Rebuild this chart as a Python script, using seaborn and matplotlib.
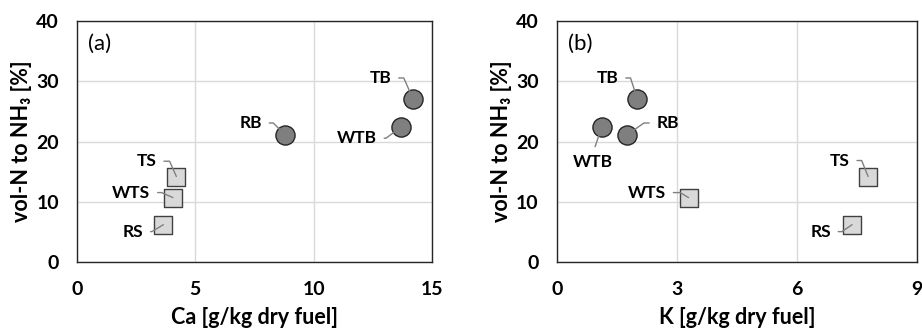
import matplotlib
matplotlib.use("Agg")
import matplotlib.pyplot as plt
import seaborn as sns
import pandas as pd

# ---- data ----
fuels = ["RS", "WTS", "TS", "RB", "WTB", "TB"]
fuel_type = ["straw", "straw", "straw", "bark", "bark", "bark"]
ca = [3.65, 4.05, 4.2, 8.8, 13.7, 14.2]
k = [7.38, 3.29, 7.78, 1.75, 1.12, 2.01]
nh3 = [6.2, 10.7, 14.2, 21.1, 22.4, 27.1]

xticks_a = [0, 5, 10, 15]
xticks_b = [0, 3, 6, 9]
yticks = [0, 10, 20, 30, 40]

df = pd.DataFrame({"fuel": fuels, "type": fuel_type, "Ca": ca, "K": k, "NH3": nh3})

sns.set_theme(style="white")
plt.rcParams["font.family"] = ["Lato", "DejaVu Sans"]

fig = plt.figure(figsize=(9.22, 3.3), dpi=100)
ax1 = fig.add_axes([0.0835, 0.206, 0.385, 0.730])
ax2 = fig.add_axes([0.604, 0.206, 0.3905, 0.730])

# label layout: offset (points), connection angle at point, relpos
lab_a = {
    "TS": ((-21.5, 11), 114, (1, 0.5)),
    "WTS": ((-30, 3.6), 156, (1, 0.5)),
    "RS": ((-22, -5), 211, (1, 0.5)),
    "RB": ((-25, 8.6), 135, (1, 0.5)),
    "TB": ((-23.5, 15), 114, (1, 0.5)),
    "WTB": ((-32, -8), 216, (1, 0.5)),
}
lab_b = {
    "TB": ((-21.5, 15), 108, (1, 0.5)),
    "RB": ((29.5, 8.6), 35, (0, 0.5)),
    "WTB": ((-6.5, -25), None, (0.5, 1)),
    "WTS": ((-30, 3.6), 149, (1, 0.5)),
    "TS": ((-20.5, 11.5), 112, (1, 0.5)),
    "RS": ((-22.8, -5), 214, (1, 0.5)),
}

def draw(ax, xcol, xticks, labels, letter, xlabel):
    straw = df[df["type"] == "straw"]
    bark = df[df["type"] == "bark"]
    sns.scatterplot(data=straw, x=xcol, y="NH3", ax=ax, marker="s", s=175,
                    color="#d9d9d9", edgecolor="#404040", linewidth=1.0, zorder=2)
    sns.scatterplot(data=bark, x=xcol, y="NH3", ax=ax, marker="o", s=190,
                    color="#7f7f7f", edgecolor="#262626", linewidth=1.0, zorder=2)
    ax.set_xlim(xticks[0], xticks[-1])
    ax.set_ylim(0, 40)
    ax.set_xticks(xticks)
    ax.set_yticks(yticks)
    ax.grid(True, color="#d9d9d9", linewidth=1.0)
    ax.set_axisbelow(True)
    for sp in ax.spines.values():
        sp.set_color("#262626")
        sp.set_linewidth(1.0)
    ax.tick_params(axis="y", length=0, pad=13, labelsize=14)
    ax.tick_params(axis="x", length=0, pad=14, labelsize=14)
    for t in ax.get_xticklabels() + ax.get_yticklabels():
        t.set_fontweight("bold")
        t.set_color("#000000")
    ax.set_xlabel(xlabel, fontsize=15.5, fontweight="bold", color="#000000")
    ax.set_ylabel("vol-N to NH₃ [%]", fontsize=15.5, fontweight="bold", color="#000000")
    ax.xaxis.set_label_coords(0.5, -0.232)
    ax.xaxis.label.set_va("center")
    ax.yaxis.set_label_coords(-0.155, 0.5)
    ax.yaxis.label.set_va("center")
    ax.text(0.065, 0.905, letter, transform=ax.transAxes, fontsize=16,
            ha="center", va="center", color="#000000")
    for _, row in df.iterrows():
        off, ang, rel = labels[row["fuel"]]
        if ang is None:
            cs = "arc3"
        else:
            cs = f"angle,angleA=0,angleB={ang},rad=0"
        ax.annotate(row["fuel"], xy=(row[xcol], row["NH3"]), xytext=off,
                    textcoords="offset points", ha="center", va="center",
                    fontsize=12.5, fontweight="bold", color="#000000",
                    arrowprops=dict(arrowstyle="-", color="#808080", lw=1.0,
                                    shrinkA=3, shrinkB=0, relpos=rel,
                                    connectionstyle=cs),
                    zorder=4)

draw(ax1, "Ca", xticks_a, lab_a, "(a)", "Ca [g/kg dry fuel]")
draw(ax2, "K", xticks_b, lab_b, "(b)", "K [g/kg dry fuel]")

fig.savefig("out.png", dpi=100)
